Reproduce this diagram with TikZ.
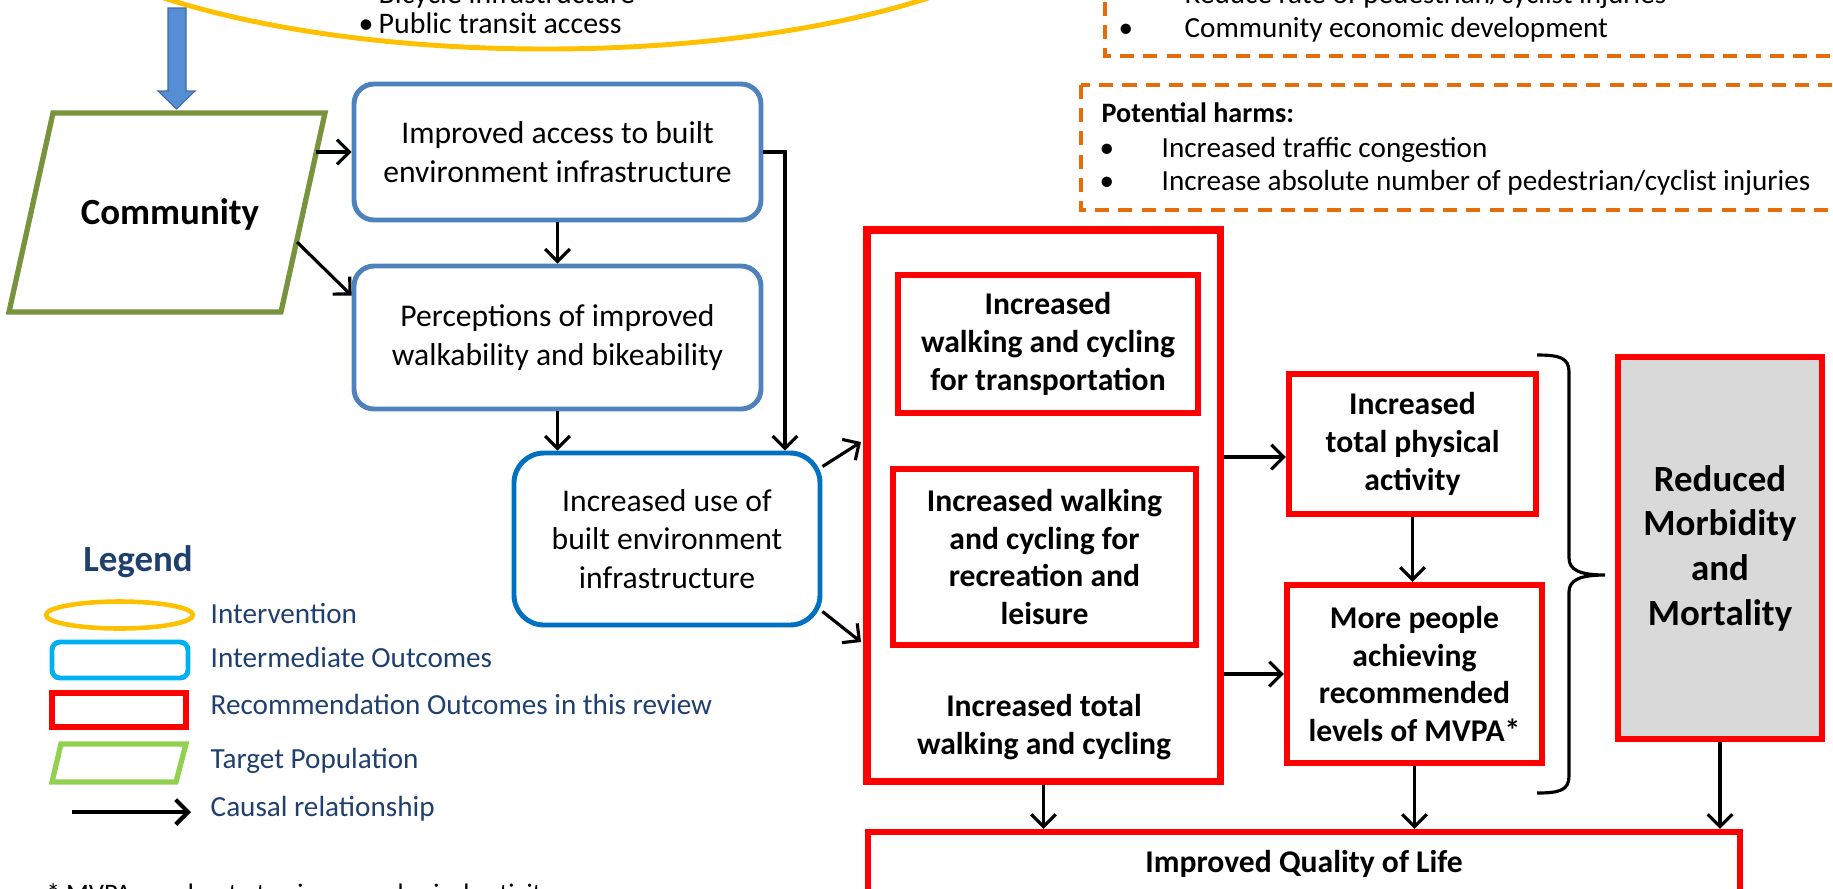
\documentclass[tikz,border=0pt]{standalone}
\usepackage{fontspec}
\setmainfont{Carlito}
\usetikzlibrary{arrows.meta}

\definecolor{boxblue}{RGB}{79,129,189}
\definecolor{usedblue}{RGB}{0,112,192}
\definecolor{commgreen}{RGB}{119,147,60}
\definecolor{intyellow}{RGB}{255,192,0}
\definecolor{harmorange}{RGB}{228,108,10}
\definecolor{legendtext}{RGB}{31,63,110}
\definecolor{legendcyan}{RGB}{0,176,240}
\definecolor{legendgreen}{RGB}{146,208,80}
\definecolor{arrowblue}{RGB}{85,142,213}
\definecolor{mortgray}{RGB}{217,217,217}

\begin{document}
\begin{tikzpicture}[%
        causal/.style = {%
            -{Straight Barb[length=3.5pt, width=7pt]},
            line width = 0.9pt
        },
        bluebox/.style = {%
            draw = boxblue, line width = 1.4pt, rounded corners = 0.2cm,
            align = center, inner sep = 0pt,
            font = \fontsize{9}{11}\selectfont
        },
        redbox/.style = {%
            draw = red, line width = 1.8pt, align = center, inner sep = 0pt,
            font = \bfseries\fontsize{9}{10.8}\selectfont
        },
        harmbox/.style = {%
            draw = harmorange, line width = 1.2pt,
            dash pattern = on 4pt off 2.6pt
        },
        plain/.style = {%
            anchor = base west, inner sep = 0pt,
            font = \fontsize{8.3}{9.8}\selectfont
        },
        legtext/.style = {%
            anchor = base west, text = legendtext, inner sep = 0pt,
            font = \fontsize{8.3}{9.6}\selectfont
        }
    ]

        % The page is the cropped frame.
        \useasboundingbox (0,0) rectangle (18.33,-8.88);
        \clip (0,0) rectangle (18.33,-8.88);

        % The intervention ellipse, cut by the top edge.
        \draw[intyellow, line width = 1.4pt] (5.46,1.24) ellipse (5.39 and 1.73);
        \node[plain, font = \fontsize{8.5}{10}\selectfont] (bike) at (3.58,-0.03)
            {\makebox[0.2cm][l]{•}Bicycle infrastructure};
        \node[plain, font = \fontsize{8.5}{10}\selectfont] (transit) at (3.58,-0.33)
            {\makebox[0.2cm][l]{•}Public transit access};

        % Block arrow down to the target population.
        \filldraw[fill = arrowblue, draw = arrowblue!75!black, line width = 0.3pt]
            (1.68,-0.08) -- (1.86,-0.08) -- (1.86,-0.91) -- (1.95,-0.91)
            -- (1.765,-1.09) -- (1.58,-0.91) -- (1.68,-0.91) -- cycle;

        % Target population.
        \draw[commgreen, line width = 1.5pt]
            (0.53,-1.13) -- (3.25,-1.13) -- (2.81,-3.12) -- (0.09,-3.12) -- cycle;
        \node[font = \bfseries\fontsize{10.5}{12}\selectfont] (community) at (1.70,-2.14) {Community};
        \coordinate (commA) at (3.16,-1.52);
        \coordinate (commB) at (2.97,-2.42);

        % Intermediate outcomes.
        \node[bluebox, minimum width = 4.07cm, minimum height = 1.36cm] (access) at (5.575,-1.52)
            {Improved access to built\\environment infrastructure};
        \node[bluebox, minimum width = 4.07cm, minimum height = 1.43cm] (percept) at (5.575,-3.375)
            {Perceptions of improved\\walkability and bikeability};
        \node[bluebox, draw = usedblue, rounded corners = 0.3cm,
              minimum width = 3.06cm, minimum height = 1.72cm] (use) at (6.67,-5.39)
            {Increased use of\\built environment\\infrastructure};

        % Recommendation outcomes.
        \node[redbox, line width = 2pt, minimum width = 3.53cm, minimum height = 5.51cm] (walk) at (10.435,-5.055) {};
        \node[redbox, minimum width = 3.00cm, minimum height = 1.38cm] (transport) at (10.48,-3.44)
            {Increased\\walking and cycling\\for transportation};
        \node[redbox, minimum width = 3.03cm, minimum height = 1.76cm] (leisure) at (10.445,-5.57)
            {Increased walking\\and cycling for\\recreation and\\leisure};
        \node[align = center, font = \bfseries\fontsize{9}{10.8}\selectfont] (totalwalk) at (10.44,-7.27)
            {Increased total\\walking and cycling};
        \node[redbox, minimum width = 2.47cm, minimum height = 1.40cm] (physact) at (14.125,-4.44)
            {Increased\\total physical\\activity};
        \node[redbox, minimum width = 2.55cm, minimum height = 1.78cm] (mvpa) at (14.145,-6.74)
            {More people\\achieving\\recommended\\levels of MVPA*};
        \node[redbox, fill = mortgray, minimum width = 2.04cm, minimum height = 3.82cm,
              font = \bfseries\fontsize{10.5}{12.7}\selectfont] (mortality) at (17.20,-5.48)
            {Reduced\\Morbidity\\and\\Mortality};
        \node[redbox, minimum width = 8.72cm, minimum height = 0.64cm] (qol) at (13.04,-8.64)
            {Improved Quality of Life};

        % Causal arrows.
        \draw[causal] (commA) -- (access.west);
        \draw[causal] (commB) -- ([yshift=4.2mm]percept.west);
        \draw[causal] (access) -- (percept);
        \draw[causal] (percept.south) -- (percept.south |- use.north);
        \draw[causal] (access.east) -| ([xshift=1.18cm]use.north);
        \coordinate (walkIn1) at (8.61,-4.42);
        \coordinate (walkIn2) at (8.61,-6.42);
        \draw[causal] (use.25) -- (walkIn1);
        \draw[causal] (use.-25) -- (walkIn2);
        \coordinate (actIn) at ([yshift=-1.3mm]physact.west);
        \draw[causal] (walk.east |- actIn) -- (actIn);
        \draw[causal] (walk.east |- mvpa.west) -- (mvpa.west);
        \draw[causal] (physact.south) -- (physact.south |- mvpa.north);
        \foreach \n in {walk, mvpa, mortality}{%
            \draw[causal] (\n.south) -- (\n.south |- qol.north);
        }

        % Brace gathering the outcomes.
        \draw[line width = 0.9pt]
            (15.37,-3.55) .. controls (15.60,-3.55) and (15.69,-3.58) .. (15.69,-3.72)
            -- (15.69,-5.58) .. controls (15.69,-5.70) and (15.80,-5.75) .. (16.05,-5.75)
            .. controls (15.80,-5.75) and (15.69,-5.80) .. (15.69,-5.92)
            -- (15.69,-7.76) .. controls (15.69,-7.90) and (15.60,-7.93) .. (15.37,-7.93);

        % Benefits and harms.
        \draw[harmbox] (11.05,3.00) rectangle (19.00,-0.56);
        \node[plain] (injury) at (11.84,-0.03) {Reduce rate of pedestrian/cyclist injuries};
        \node[plain] (econ) at (11.18,-0.37) {\makebox[0.66cm][l]{•}Community economic development};
        \draw[harmbox] (10.81,-0.85) rectangle (19.00,-2.10);
        \node[plain, font = \bfseries\fontsize{8}{9.8}\selectfont] (harms) at (11.01,-1.22) {Potential harms:};
        \node[plain] (traffic) at (10.99,-1.57) {\makebox[0.62cm][l]{•}Increased traffic congestion};
        \node[plain] (absolute) at (10.99,-1.90) {\makebox[0.62cm][l]{•}Increase absolute number of pedestrian/cyclist injuries};

        % Legend.
        \node[text = legendtext, font = \bfseries\fontsize{10.5}{12}\selectfont] (legend) at (1.38,-5.62) {Legend};
        \draw[intyellow, line width = 1.3pt] (1.195,-6.15) ellipse (0.735 and 0.135);
        \draw[legendcyan, line width = 1.4pt, rounded corners = 0.08cm] (0.52,-6.42) rectangle (1.88,-6.78);
        \draw[red, line width = 1.5pt] (0.52,-6.93) rectangle (1.86,-7.27);
        \draw[legendgreen, line width = 1.5pt] (0.61,-7.44) -- (1.86,-7.44) -- (1.76,-7.82) -- (0.52,-7.82) -- cycle;
        \coordinate (legA) at (0.72,-8.12);
        \coordinate (legB) at (1.91,-8.12);
        \draw[causal, line width = 1.2pt] (legA) -- (legB);
        \foreach \i/\y/\t in {1/6.23/Intervention, 2/6.67/Intermediate Outcomes,
                3/7.14/Recommendation Outcomes in this review, 4/7.68/Target Population,
                5/8.16/Causal relationship}{%
            \node[legtext] (leg\i) at (2.10,-\y) {\t};
        }

        % Footnote, cut by the bottom edge.
        \node[plain, font = \fontsize{7.6}{9}\selectfont] (note) at (0.46,-9.02) {* MVPA: moderate to vigorous physical activity};
    \end{tikzpicture}
\end{document}
